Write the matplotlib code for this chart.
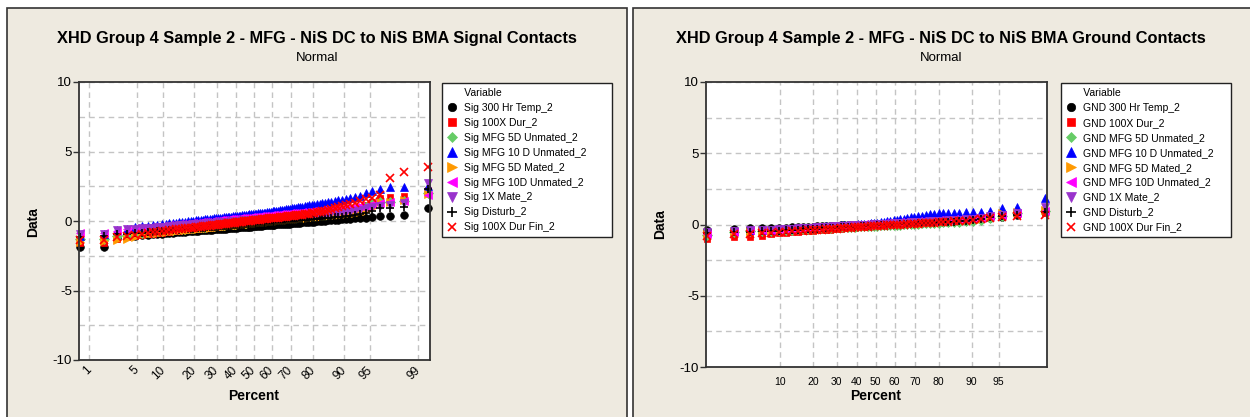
import numpy as np
import matplotlib
matplotlib.use("Agg")
import matplotlib.pyplot as plt
from matplotlib.patches import Rectangle
from statistics import NormalDist

plt.rcParams['font.family'] = ['Liberation Sans', 'DejaVu Sans']
plt.rcParams['axes.unicode_minus'] = False

sig_names = ["Sig 300 Hr Temp_2", "Sig 100X Dur_2", "Sig MFG 5D Unmated_2",
             "Sig MFG 10 D Unmated_2", "Sig MFG 5D Mated_2", "Sig MFG 10D Unmated_2",
             "Sig 1X Mate_2", "Sig Disturb_2", "Sig 100X Dur Fin_2"]
gnd_names = ["GND 300 Hr Temp_2", "GND 100X Dur_2", "GND MFG 5D Unmated_2",
             "GND MFG 10 D Unmated_2", "GND MFG 5D Mated_2", "GND MFG 10D Unmated_2",
             "GND 1X Mate_2", "GND Disturb_2", "GND 100X Dur Fin_2"]

sig_300hr_temp = [
    -1.90, -1.85, -1.25, -1.10, -1.05, -1.01, -0.98, -0.95, -0.92, -0.90,
    -0.88, -0.86, -0.84, -0.82, -0.80, -0.78, -0.77, -0.75, -0.74, -0.72,
    -0.71, -0.70, -0.68, -0.67, -0.66, -0.64, -0.63, -0.62, -0.61, -0.60,
    -0.58, -0.57, -0.56, -0.55, -0.54, -0.53, -0.52, -0.51, -0.50, -0.49,
    -0.48, -0.46, -0.46, -0.44, -0.44, -0.42, -0.42, -0.40, -0.40, -0.38,
    -0.38, -0.36, -0.36, -0.34, -0.34, -0.32, -0.32, -0.30, -0.30, -0.28,
    -0.27, -0.26, -0.25, -0.24, -0.23, -0.22, -0.21, -0.20, -0.19, -0.18,
    -0.16, -0.15, -0.14, -0.13, -0.12, -0.10, -0.09, -0.08, -0.06, -0.05,
    -0.04, -0.02, -0.01, 0.01, 0.02, 0.04, 0.06, 0.08, 0.10, 0.12,
    0.14, 0.16, 0.19, 0.22, 0.25, 0.28, 0.36, 0.36, 0.43, 0.91]
sig_100x_dur = [
    -1.56, -1.55, -1.30, -1.15, -1.05, -0.99, -0.95, -0.91, -0.87, -0.84,
    -0.81, -0.77, -0.75, -0.73, -0.70, -0.68, -0.65, -0.63, -0.61, -0.59,
    -0.57, -0.55, -0.53, -0.52, -0.50, -0.48, -0.47, -0.45, -0.43, -0.42,
    -0.40, -0.38, -0.37, -0.35, -0.34, -0.32, -0.31, -0.30, -0.28, -0.27,
    -0.25, -0.24, -0.22, -0.21, -0.20, -0.18, -0.17, -0.15, -0.14, -0.13,
    -0.11, -0.10, -0.09, -0.07, -0.06, -0.04, -0.03, -0.02, 0.00, 0.01,
    0.03, 0.04, 0.06, 0.07, 0.08, 0.10, 0.11, 0.13, 0.14, 0.16,
    0.18, 0.19, 0.21, 0.23, 0.24, 0.26, 0.28, 0.29, 0.31, 0.33,
    0.36, 0.38, 0.40, 0.43, 0.46, 0.49, 0.52, 0.55, 0.60, 0.65,
    0.70, 0.78, 0.88, 1.00, 1.15, 1.35, 1.68, 1.70, 1.82, 2.20]
sig_mfg_5d_unmated = [
    -1.30, -1.30, -1.10, -1.00, -0.92, -0.84, -0.80, -0.77, -0.73, -0.70,
    -0.68, -0.65, -0.62, -0.60, -0.58, -0.56, -0.54, -0.52, -0.50, -0.48,
    -0.46, -0.45, -0.43, -0.41, -0.40, -0.38, -0.37, -0.35, -0.34, -0.32,
    -0.31, -0.29, -0.28, -0.26, -0.25, -0.24, -0.22, -0.21, -0.20, -0.19,
    -0.17, -0.16, -0.15, -0.13, -0.12, -0.11, -0.10, -0.08, -0.07, -0.06,
    -0.05, -0.03, -0.02, 0.00, 0.01, 0.02, 0.03, 0.05, 0.06, 0.07,
    0.09, 0.10, 0.11, 0.12, 0.14, 0.15, 0.16, 0.18, 0.19, 0.21,
    0.22, 0.24, 0.25, 0.27, 0.28, 0.30, 0.31, 0.33, 0.35, 0.36,
    0.38, 0.40, 0.42, 0.44, 0.46, 0.48, 0.50, 0.52, 0.55, 0.58,
    0.62, 0.68, 0.75, 0.85, 1.00, 1.20, 1.35, 1.40, 1.45, 2.00]
sig_mfg_10d_unmated = [
    -1.05, -0.95, -0.65, -0.55, -0.46, -0.38, -0.34, -0.30, -0.26, -0.23,
    -0.20, -0.17, -0.14, -0.12, -0.09, -0.07, -0.04, -0.02, 0.00, 0.02,
    0.04, 0.06, 0.08, 0.10, 0.11, 0.13, 0.15, 0.16, 0.18, 0.20,
    0.21, 0.23, 0.25, 0.26, 0.28, 0.29, 0.31, 0.32, 0.34, 0.35,
    0.37, 0.38, 0.39, 0.41, 0.42, 0.44, 0.45, 0.47, 0.48, 0.49,
    0.51, 0.53, 0.54, 0.56, 0.58, 0.60, 0.61, 0.64, 0.65, 0.67,
    0.70, 0.71, 0.73, 0.75, 0.77, 0.80, 0.81, 0.84, 0.86, 0.88,
    0.91, 0.93, 0.96, 0.98, 1.01, 1.03, 1.06, 1.08, 1.12, 1.14,
    1.18, 1.20, 1.24, 1.27, 1.31, 1.35, 1.39, 1.43, 1.48, 1.53,
    1.58, 1.64, 1.71, 1.83, 2.04, 2.16, 2.30, 2.45, 2.47, 2.55]
sig_mfg_5d_mated = [
    -1.50, -1.45, -1.40, -1.30, -1.15, -0.94, -0.90, -0.87, -0.83, -0.80,
    -0.78, -0.75, -0.72, -0.70, -0.68, -0.66, -0.64, -0.62, -0.60, -0.58,
    -0.56, -0.55, -0.53, -0.51, -0.50, -0.48, -0.47, -0.45, -0.44, -0.42,
    -0.41, -0.39, -0.38, -0.36, -0.35, -0.34, -0.32, -0.31, -0.30, -0.29,
    -0.27, -0.26, -0.25, -0.23, -0.22, -0.21, -0.20, -0.18, -0.17, -0.16,
    -0.15, -0.13, -0.12, -0.10, -0.09, -0.08, -0.07, -0.05, -0.04, -0.03,
    -0.01, 0.00, 0.01, 0.02, 0.04, 0.05, 0.06, 0.08, 0.09, 0.11,
    0.12, 0.14, 0.15, 0.17, 0.18, 0.20, 0.21, 0.23, 0.25, 0.26,
    0.28, 0.30, 0.32, 0.34, 0.36, 0.38, 0.40, 0.42, 0.45, 0.48,
    0.50, 0.54, 0.58, 0.62, 0.70, 0.90, 1.35, 1.40, 1.50, 1.95]
sig_mfg_10d_unmated_b = [
    -0.89, -0.85, -0.70, -0.60, -0.52, -0.51, -0.47, -0.44, -0.40, -0.37,
    -0.35, -0.32, -0.29, -0.27, -0.25, -0.23, -0.21, -0.19, -0.17, -0.15,
    -0.13, -0.12, -0.10, -0.08, -0.07, -0.05, -0.04, -0.02, -0.01, 0.01,
    0.02, 0.04, 0.05, 0.07, 0.08, 0.09, 0.11, 0.12, 0.13, 0.14,
    0.16, 0.17, 0.18, 0.20, 0.21, 0.22, 0.23, 0.25, 0.26, 0.27,
    0.28, 0.30, 0.31, 0.33, 0.34, 0.35, 0.36, 0.38, 0.39, 0.40,
    0.42, 0.43, 0.44, 0.45, 0.47, 0.48, 0.49, 0.51, 0.52, 0.54,
    0.55, 0.57, 0.58, 0.60, 0.61, 0.63, 0.64, 0.66, 0.68, 0.69,
    0.71, 0.73, 0.75, 0.77, 0.79, 0.81, 0.83, 0.85, 0.88, 0.91,
    0.93, 0.96, 1.00, 1.05, 1.10, 1.20, 1.30, 1.35, 1.45, 1.85]
sig_1x_mate = [
    -0.95, -0.90, -0.62, -0.58, -0.55, -0.53, -0.50, -0.47, -0.44, -0.42,
    -0.40, -0.38, -0.36, -0.34, -0.32, -0.30, -0.29, -0.27, -0.26, -0.24,
    -0.23, -0.22, -0.20, -0.19, -0.18, -0.16, -0.15, -0.14, -0.13, -0.12,
    -0.10, -0.09, -0.08, -0.07, -0.06, -0.05, -0.04, -0.03, -0.02, -0.01,
    0.00, 0.02, 0.02, 0.04, 0.04, 0.06, 0.06, 0.08, 0.08, 0.10,
    0.10, 0.12, 0.12, 0.14, 0.14, 0.16, 0.16, 0.18, 0.18, 0.20,
    0.21, 0.22, 0.23, 0.24, 0.25, 0.26, 0.27, 0.28, 0.29, 0.30,
    0.32, 0.33, 0.34, 0.35, 0.36, 0.38, 0.39, 0.40, 0.42, 0.43,
    0.44, 0.46, 0.47, 0.49, 0.50, 0.52, 0.54, 0.56, 0.58, 0.60,
    0.63, 0.67, 0.72, 0.80, 0.90, 1.00, 1.10, 1.15, 1.27, 2.71]
sig_disturb = [
    -1.13, -1.05, -0.95, -0.90, -0.85, -0.83, -0.80, -0.77, -0.74, -0.72,
    -0.70, -0.68, -0.66, -0.64, -0.62, -0.60, -0.59, -0.57, -0.56, -0.54,
    -0.53, -0.52, -0.50, -0.49, -0.48, -0.46, -0.45, -0.44, -0.43, -0.42,
    -0.40, -0.39, -0.38, -0.37, -0.36, -0.35, -0.34, -0.33, -0.32, -0.31,
    -0.30, -0.28, -0.28, -0.26, -0.26, -0.24, -0.24, -0.22, -0.22, -0.20,
    -0.20, -0.18, -0.18, -0.16, -0.16, -0.14, -0.14, -0.12, -0.12, -0.10,
    -0.09, -0.08, -0.07, -0.06, -0.05, -0.04, -0.03, -0.02, -0.01, 0.00,
    0.02, 0.03, 0.04, 0.05, 0.06, 0.08, 0.09, 0.10, 0.12, 0.13,
    0.14, 0.16, 0.17, 0.19, 0.20, 0.22, 0.24, 0.26, 0.28, 0.30,
    0.33, 0.37, 0.42, 0.48, 0.55, 0.70, 0.93, 0.96, 0.98, 2.30]
sig_100x_dur_fin = [
    -1.40, -1.35, -1.15, -1.05, -0.98, -0.90, -0.85, -0.81, -0.77, -0.73,
    -0.70, -0.66, -0.63, -0.61, -0.58, -0.56, -0.53, -0.51, -0.48, -0.47,
    -0.44, -0.42, -0.40, -0.38, -0.36, -0.35, -0.33, -0.31, -0.29, -0.27,
    -0.26, -0.24, -0.22, -0.20, -0.19, -0.17, -0.15, -0.14, -0.12, -0.11,
    -0.09, -0.08, -0.06, -0.05, -0.03, -0.02, 0.00, 0.01, 0.03, 0.04,
    0.06, 0.07, 0.09, 0.10, 0.12, 0.13, 0.15, 0.16, 0.18, 0.19,
    0.21, 0.22, 0.24, 0.25, 0.27, 0.29, 0.30, 0.32, 0.34, 0.36,
    0.37, 0.39, 0.41, 0.43, 0.45, 0.46, 0.48, 0.50, 0.52, 0.54,
    0.58, 0.62, 0.66, 0.70, 0.75, 0.80, 0.86, 0.92, 0.98, 1.05,
    1.12, 1.20, 1.30, 1.42, 1.55, 1.68, 1.85, 3.12, 3.55, 3.85]

gnd_300hr_temp = [
    -0.40, -0.33, -0.28, -0.27, -0.26, -0.24, -0.22, -0.20, -0.19, -0.17,
    -0.16, -0.15, -0.14, -0.12, -0.11, -0.10, -0.09, -0.08, -0.07, -0.06,
    -0.05, -0.05, -0.04, -0.03, -0.02, -0.01, 0.00, 0.01, 0.02, 0.02,
    0.03, 0.04, 0.05, 0.06, 0.07, 0.08, 0.09, 0.09, 0.10, 0.11,
    0.12, 0.13, 0.14, 0.15, 0.16, 0.18, 0.19, 0.20, 0.21, 0.23,
    0.24, 0.26, 0.30, 0.36, 0.45, 0.55, 0.70, 0.85]
gnd_100x_dur = [
    -1.04, -0.85, -0.85, -0.82, -0.65, -0.61, -0.58, -0.55, -0.52, -0.49,
    -0.46, -0.44, -0.42, -0.39, -0.37, -0.36, -0.34, -0.32, -0.30, -0.28,
    -0.26, -0.25, -0.23, -0.21, -0.19, -0.18, -0.16, -0.14, -0.13, -0.11,
    -0.10, -0.08, -0.06, -0.05, -0.03, -0.01, 0.01, 0.02, 0.04, 0.06,
    0.08, 0.10, 0.12, 0.13, 0.15, 0.18, 0.20, 0.22, 0.25, 0.28,
    0.31, 0.34, 0.38, 0.42, 0.50, 0.58, 0.67, 0.80]
gnd_mfg_5d_unmated = [
    -0.75, -0.50, -0.45, -0.43, -0.43, -0.41, -0.38, -0.36, -0.34, -0.32,
    -0.31, -0.29, -0.28, -0.26, -0.25, -0.24, -0.22, -0.21, -0.20, -0.19,
    -0.17, -0.16, -0.15, -0.14, -0.13, -0.12, -0.11, -0.10, -0.09, -0.08,
    -0.07, -0.05, -0.04, -0.03, -0.02, -0.01, 0.00, 0.01, 0.03, 0.04,
    0.05, 0.06, 0.08, 0.09, 0.10, 0.12, 0.13, 0.15, 0.16, 0.18,
    0.20, 0.22, 0.26, 0.32, 0.45, 0.62, 0.80, 0.95]
gnd_mfg_10d_unmated = [
    -0.55, -0.45, -0.40, -0.38, -0.37, -0.36, -0.32, -0.29, -0.26, -0.24,
    -0.22, -0.19, -0.17, -0.15, -0.13, -0.12, -0.10, -0.08, -0.06, -0.05,
    -0.03, -0.02, 0.00, 0.02, 0.03, 0.05, 0.06, 0.08, 0.09, 0.12,
    0.15, 0.19, 0.23, 0.26, 0.30, 0.34, 0.38, 0.41, 0.46, 0.50,
    0.54, 0.58, 0.63, 0.67, 0.71, 0.76, 0.79, 0.80, 0.81, 0.82,
    0.83, 0.85, 0.86, 0.90, 0.97, 1.14, 1.25, 1.84]
gnd_mfg_5d_mated = [
    -0.70, -0.55, -0.50, -0.48, -0.47, -0.44, -0.41, -0.39, -0.36, -0.34,
    -0.32, -0.30, -0.28, -0.27, -0.25, -0.24, -0.22, -0.21, -0.19, -0.18,
    -0.16, -0.15, -0.13, -0.12, -0.11, -0.10, -0.08, -0.07, -0.06, -0.04,
    -0.03, -0.02, 0.00, 0.01, 0.02, 0.03, 0.05, 0.06, 0.08, 0.09,
    0.11, 0.12, 0.14, 0.15, 0.17, 0.18, 0.20, 0.22, 0.24, 0.26,
    0.29, 0.31, 0.35, 0.42, 0.55, 0.80, 0.90, 1.00]
gnd_mfg_10d_unmated_b = [
    -0.65, -0.50, -0.42, -0.40, -0.37, -0.34, -0.31, -0.29, -0.26, -0.24,
    -0.22, -0.20, -0.18, -0.17, -0.15, -0.14, -0.12, -0.11, -0.09, -0.08,
    -0.06, -0.05, -0.03, -0.02, -0.01, 0.01, 0.02, 0.03, 0.04, 0.06,
    0.07, 0.08, 0.10, 0.11, 0.12, 0.13, 0.15, 0.16, 0.18, 0.19,
    0.21, 0.22, 0.24, 0.25, 0.27, 0.28, 0.30, 0.32, 0.34, 0.36,
    0.39, 0.41, 0.44, 0.48, 0.58, 0.70, 0.78, 0.95]
gnd_1x_mate = [
    -0.50, -0.45, -0.40, -0.38, -0.37, -0.34, -0.32, -0.29, -0.27, -0.25,
    -0.23, -0.22, -0.20, -0.18, -0.17, -0.15, -0.14, -0.13, -0.11, -0.10,
    -0.08, -0.07, -0.06, -0.05, -0.03, -0.02, -0.01, 0.00, 0.01, 0.03,
    0.04, 0.05, 0.06, 0.07, 0.09, 0.10, 0.11, 0.12, 0.14, 0.15,
    0.17, 0.18, 0.19, 0.21, 0.22, 0.24, 0.26, 0.27, 0.29, 0.31,
    0.33, 0.36, 0.40, 0.46, 0.60, 0.70, 0.80, 1.25]
gnd_disturb = [
    -0.60, -0.55, -0.50, -0.47, -0.47, -0.44, -0.42, -0.39, -0.37, -0.35,
    -0.33, -0.32, -0.30, -0.28, -0.27, -0.25, -0.24, -0.23, -0.21, -0.20,
    -0.18, -0.17, -0.16, -0.15, -0.13, -0.12, -0.11, -0.10, -0.09, -0.07,
    -0.06, -0.05, -0.04, -0.03, -0.01, 0.00, 0.01, 0.02, 0.04, 0.05,
    0.07, 0.08, 0.09, 0.11, 0.12, 0.14, 0.16, 0.17, 0.19, 0.21,
    0.23, 0.26, 0.30, 0.36, 0.50, 0.60, 0.67, 0.90]
gnd_100x_dur_fin = [
    -0.80, -0.70, -0.65, -0.62, -0.58, -0.55, -0.52, -0.49, -0.46, -0.44,
    -0.42, -0.40, -0.38, -0.36, -0.34, -0.32, -0.31, -0.29, -0.28, -0.26,
    -0.24, -0.23, -0.21, -0.20, -0.18, -0.17, -0.16, -0.14, -0.13, -0.11,
    -0.10, -0.08, -0.07, -0.06, -0.04, -0.03, -0.01, 0.00, 0.02, 0.04,
    0.05, 0.07, 0.08, 0.10, 0.12, 0.14, 0.16, 0.18, 0.20, 0.22,
    0.25, 0.28, 0.32, 0.38, 0.45, 0.50, 0.60, 0.67]

sig_values = [sig_300hr_temp, sig_100x_dur, sig_mfg_5d_unmated, sig_mfg_10d_unmated,
              sig_mfg_5d_mated, sig_mfg_10d_unmated_b, sig_1x_mate, sig_disturb,
              sig_100x_dur_fin]
gnd_values = [gnd_300hr_temp, gnd_100x_dur, gnd_mfg_5d_unmated, gnd_mfg_10d_unmated,
              gnd_mfg_5d_mated, gnd_mfg_10d_unmated_b, gnd_1x_mate, gnd_disturb,
              gnd_100x_dur_fin]

sig_xticks = [1, 5, 10, 20, 30, 40, 50, 60, 70, 80, 90, 95, 99]
gnd_xticks = [10, 20, 30, 40, 50, 60, 70, 80, 90, 95]

# marker styles, same order as the legend
markers = ['o', 's', 'D', '^', '>', '<', 'v', '+', 'x']
colors = ['black', '#FF0000', '#66CC66', '#0000FF', '#FF9900', '#FF00FF',
          '#9933CC', 'black', '#FF0000']
msizes = [5.5, 5.0, 5.0, 6.0, 6.0, 6.0, 6.0, 6.0, 5.5]

BEIGE = '#EEEAE0'
GRID = '#C4C4C4'
W, H = 1250, 417

# normal probability scale for the percent axis
_nd = NormalDist()
_ppf = np.vectorize(_nd.inv_cdf, otypes=[float])
_cdf = np.vectorize(_nd.cdf, otypes=[float])


def to_z(p):
    p = np.clip(np.asarray(p, dtype=float), 1e-4, 100 - 1e-4)
    return _ppf(p / 100.0)


def from_z(z):
    return 100.0 * _cdf(np.asarray(z, dtype=float))


fig = plt.figure(figsize=(12.5, 4.17), dpi=100, facecolor='white')

# beige panel backgrounds
for x0, x1 in [(7, 627), (633, 1262)]:
    fig.patches.append(Rectangle((x0 / W, 1 - 430 / H), (x1 - x0) / W, 422 / H,
                                 transform=fig.transFigure, facecolor=BEIGE,
                                 edgecolor='#333333', lw=1.2, zorder=-5))


def draw_panel(rect, values, names, xticks, xlim, rotate, leg_x, title, cx):
    ax = fig.add_axes([rect[0] / W, 1 - rect[3] / H, (rect[2] - rect[0]) / W,
                       (rect[3] - rect[1]) / H])
    ax.set_facecolor('white')
    handles = []
    for vals, name, m, c, s in zip(values, names, markers, colors, msizes):
        n = len(vals)
        pp = 100.0 * (np.arange(1, n + 1) - 0.3) / (n + 0.4)
        mew = 1.2 if m in '+x' else 0.5
        h, = ax.plot(pp, vals, ls='none', marker=m, color=c, ms=s, mew=mew,
                     label=name, clip_on=False)
        handles.append(h)

    ax.set_xscale('function', functions=(to_z, from_z))
    ax.set_xlim(xlim)
    ax.set_ylim(-10, 10)
    ax.set_xticks(xticks)
    ax.set_xticklabels([str(t) for t in xticks])
    ax.set_yticks([-10, -5, 0, 5, 10])
    ax.set_yticks([-7.5, -2.5, 2.5, 7.5], minor=True)
    ax.set_axisbelow(True)
    ax.grid(True, which='major', axis='x', color=GRID, ls=(0, (4, 3)), lw=1)
    ax.grid(True, which='both', axis='y', color=GRID, ls=(0, (4, 3)), lw=1)
    ax.tick_params(axis='y', which='major', length=4, width=1, pad=1,
                   labelsize=9.5, color='#333333')
    ax.tick_params(axis='y', which='minor', length=0)
    for sp in ax.spines.values():
        sp.set_color('#333333')
        sp.set_linewidth(1.3)

    if rotate:
        ax.tick_params(axis='x', length=0, pad=6, labelsize=8.5)
        for lab in ax.get_xticklabels():
            lab.set_rotation(45)
            lab.set_ha('right')
            lab.set_va('center')
            lab.set_rotation_mode('anchor')
    else:
        ax.tick_params(axis='x', length=0, pad=7, labelsize=7.5)

    leg = ax.legend(handles=handles, title='      Variable', loc='upper left',
                    bbox_to_anchor=(leg_x / W, 1 - 238 / H, 170 / W, 155 / H),
                    bbox_transform=fig.transFigure, mode='expand',
                    borderaxespad=0, fancybox=False, framealpha=1,
                    edgecolor='#222222', fontsize=7.5, title_fontsize=7.5,
                    labelspacing=0.47, handlelength=1.0, handletextpad=0.6,
                    borderpad=0.5, alignment='left', markerscale=1.1)
    leg.get_frame().set_linewidth(1.0)

    fig.text(cx / W, 1 - 38 / H, title, ha='center', va='center',
             fontsize=11.8, fontweight='bold')
    fig.text(cx / W, 1 - 58 / H, 'Normal', ha='center', va='center', fontsize=9.5)
    return ax


ax1 = draw_panel((79, 82, 430, 360), sig_values, sig_names, sig_xticks,
                 (from_z(-2.47), from_z(2.49)), True, 442,
                 'XHD Group 4 Sample 2 - MFG - NiS DC to NiS BMA Signal Contacts', 317)
ax2 = draw_panel((706, 82, 1047, 367), gnd_values, gnd_names, gnd_xticks,
                 (from_z(-2.27), from_z(2.29)), False, 1061,
                 'XHD Group 4 Sample 2 - MFG - NiS DC to NiS BMA Ground Contacts', 941)

# axis titles
fig.text(33 / W, 1 - 222 / H, 'Data', rotation=90, ha='center', va='center',
         fontsize=10, fontweight='bold')
fig.text(254 / W, 1 - 396 / H, 'Percent', ha='center', va='center',
         fontsize=10, fontweight='bold')
fig.text(660 / W, 1 - 224 / H, 'Data', rotation=90, ha='center', va='center',
         fontsize=10, fontweight='bold')
fig.text(876 / W, 1 - 396 / H, 'Percent', ha='center', va='center',
         fontsize=10, fontweight='bold')

fig.savefig('out.png', dpi=100, facecolor='white')
